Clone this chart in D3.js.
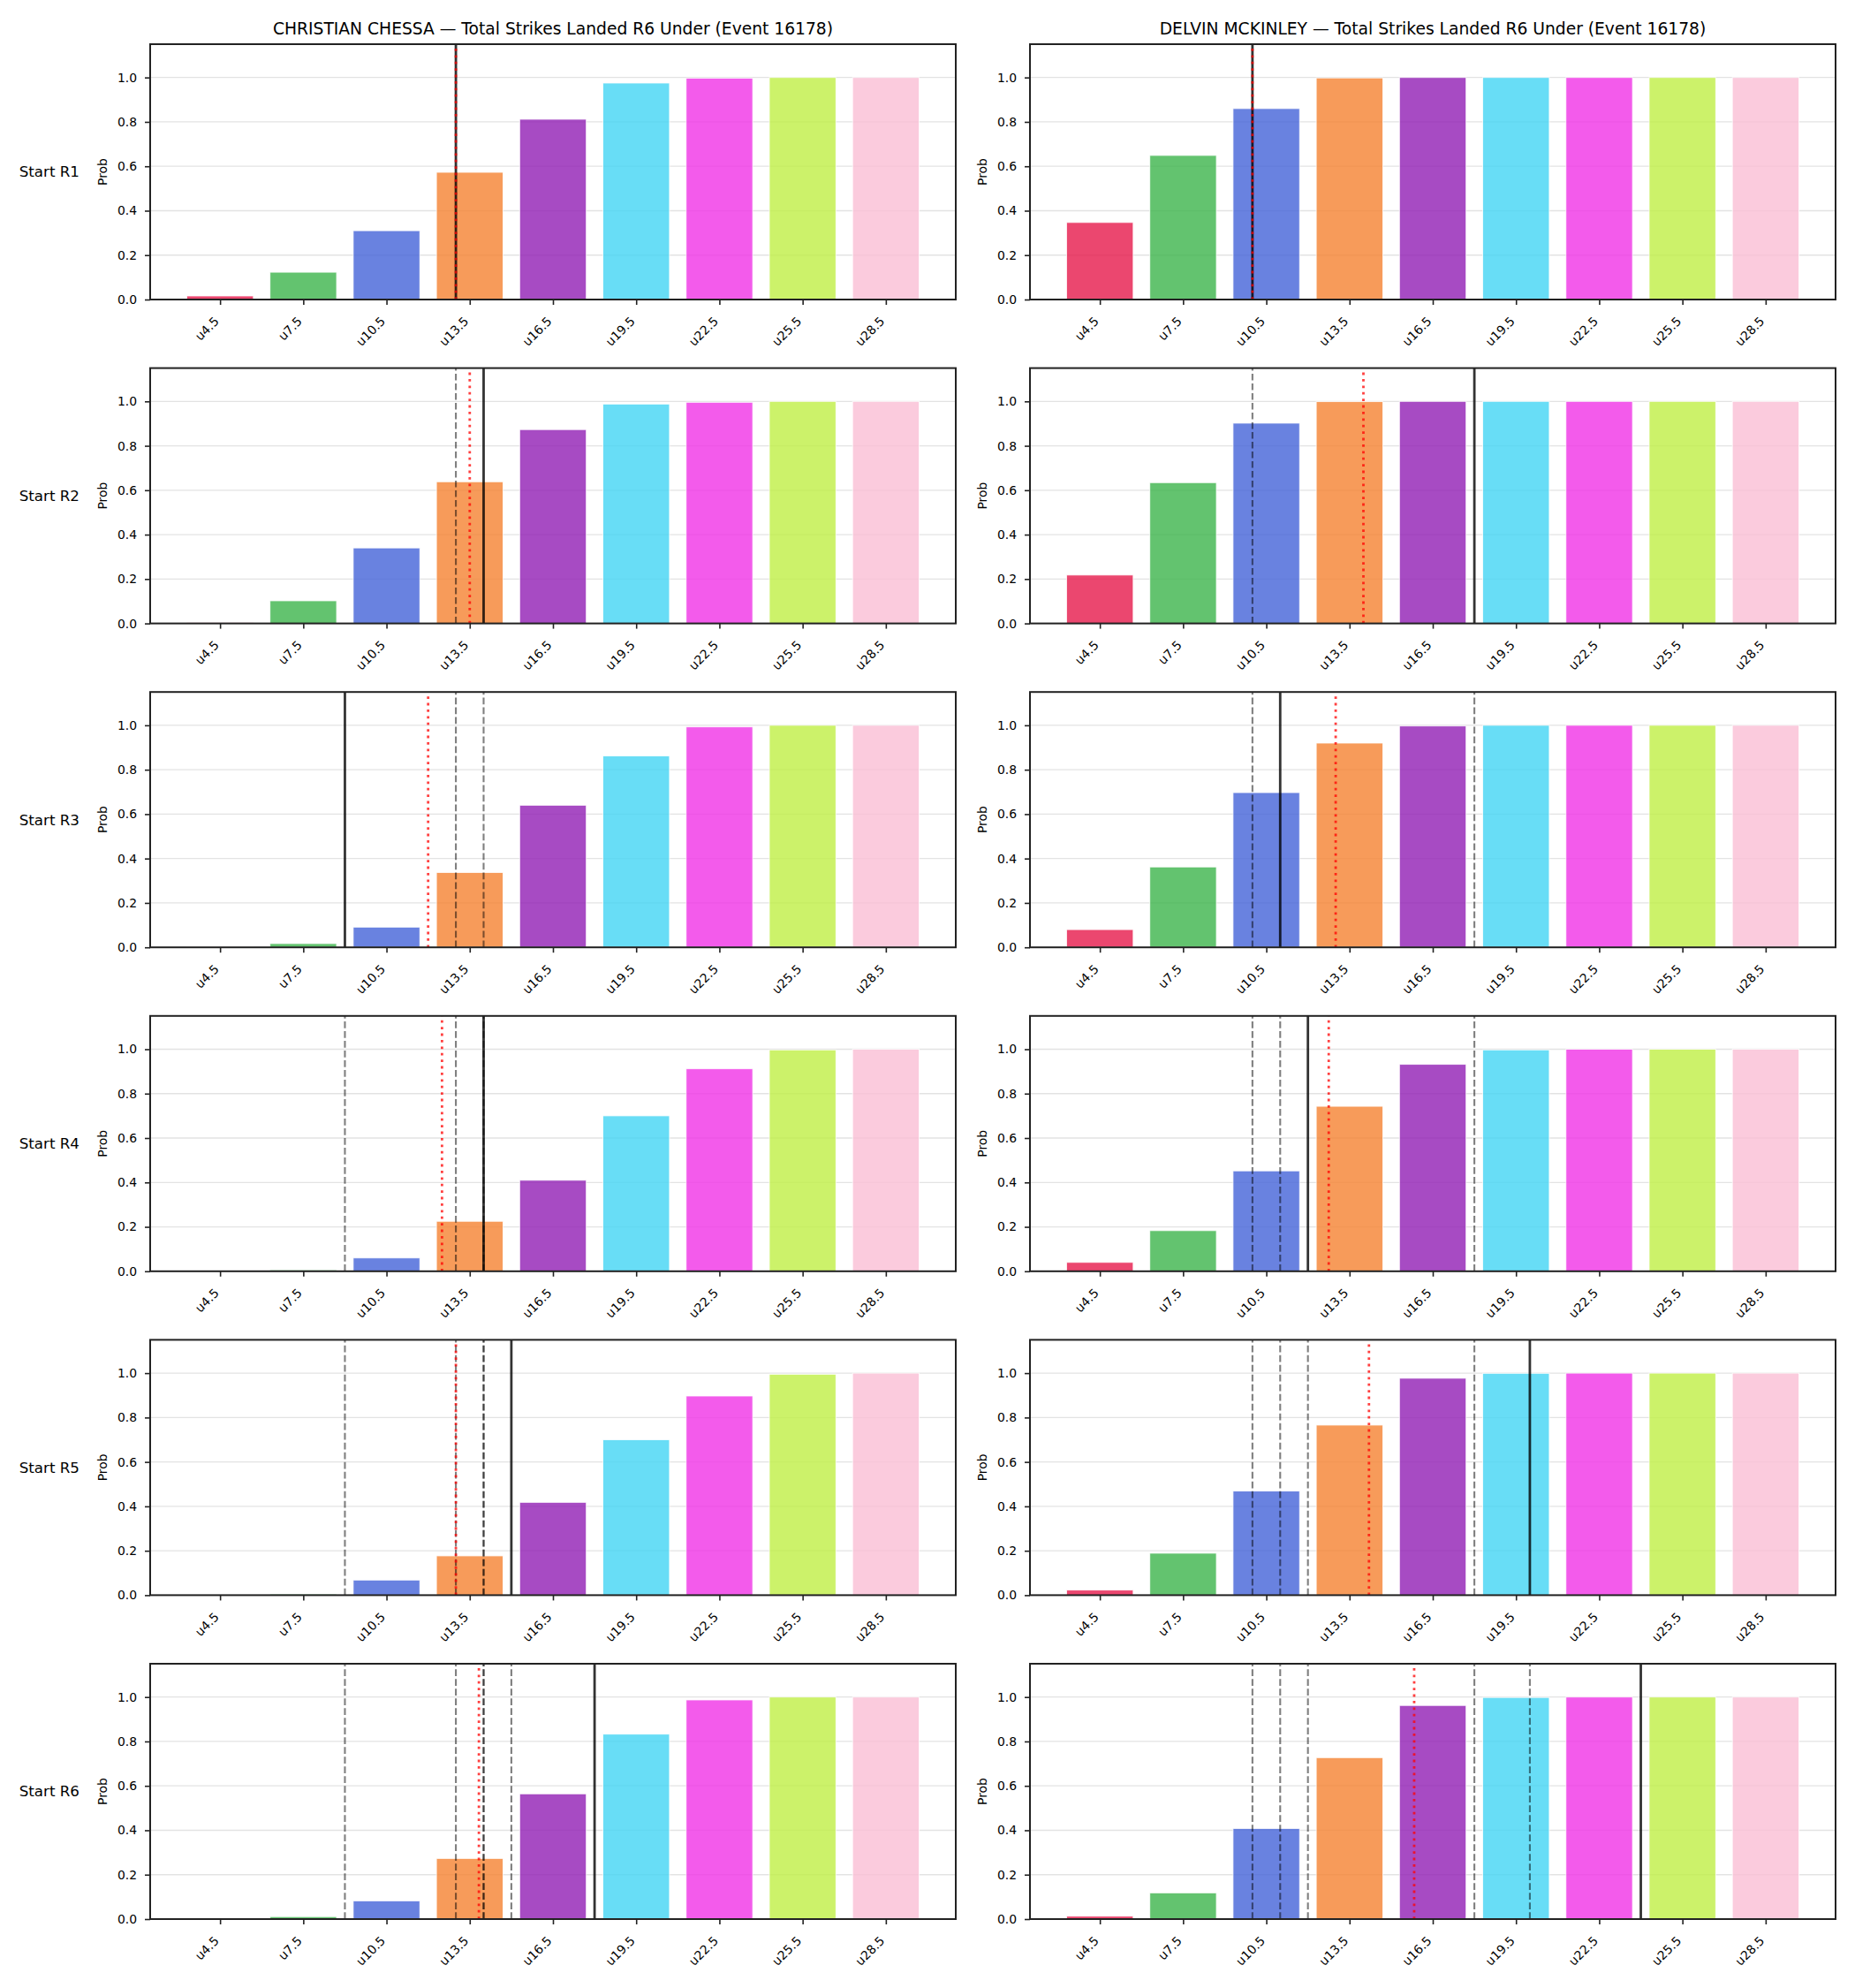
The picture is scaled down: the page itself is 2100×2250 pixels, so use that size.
<!DOCTYPE html>
<html>
<head>
<meta charset="utf-8">
<script src="https://cdn.jsdelivr.net/npm/d3@7"></script>
<style>
  body { margin: 0; background: #fff; }
  text { font-family: "DejaVu Sans", sans-serif; fill: #000; }
</style>
</head>
<body>
<div id="chart"></div>
<script>
// Lines (categories) and rounds
const lineLabels = ["u4.5", "u7.5", "u10.5", "u13.5", "u16.5", "u19.5", "u22.5", "u25.5", "u28.5"];
const lineValues = [4.5, 7.5, 10.5, 13.5, 16.5, 19.5, 22.5, 25.5, 28.5];
const rounds = ["Start R1", "Start R2", "Start R3", "Start R4", "Start R5", "Start R6"];
const fighters = ["CHRISTIAN CHESSA", "DELVIN MCKINLEY"];
const yTicks = [0, 0.2, 0.4, 0.6, 0.8, 1.0];
const barColors = ["#e6194b", "#3cb44b", "#4363d8", "#f58231", "#911eb4", "#42d4f4", "#f032e6", "#bfef45", "#fabed4"];

// Under probabilities, one row per starting round
const chessaProbs = [
    [0.016, 0.123, 0.310, 0.573, 0.812, 0.975, 0.997, 1.0, 1.0],
    [0.003, 0.102, 0.340, 0.638, 0.873, 0.988, 0.996, 1.0, 1.0],
    [0.001, 0.017, 0.091, 0.337, 0.640, 0.862, 0.993, 1.0, 1.0],
    [0.0, 0.006, 0.060, 0.225, 0.410, 0.700, 0.912, 0.997, 1.0],
    [0.0, 0.005, 0.068, 0.177, 0.418, 0.700, 0.897, 0.995, 1.0],
    [0.0, 0.011, 0.082, 0.273, 0.564, 0.833, 0.987, 1.0, 1.0]
];
const mckinleyProbs = [
    [0.347, 0.649, 0.860, 0.998, 1.0, 1.0, 1.0, 1.0, 1.0],
    [0.218, 0.634, 0.902, 0.999, 1.0, 1.0, 1.0, 1.0, 1.0],
    [0.080, 0.362, 0.697, 0.920, 0.997, 1.0, 1.0, 1.0, 1.0],
    [0.040, 0.183, 0.452, 0.743, 0.932, 0.997, 1.0, 1.0, 1.0],
    [0.023, 0.189, 0.469, 0.766, 0.977, 0.999, 1.0, 1.0, 1.0],
    [0.013, 0.118, 0.408, 0.727, 0.962, 0.998, 1.0, 1.0, 1.0]
];

// Marker lines (strikes): current round, earlier rounds dashed, running average dotted
const chessaMarks = [13, 14, 9, 14, 15, 18];
const mckinleyMarks = [10, 18, 11, 12, 20, 24];
const chessaAvg = [13, 13.5, 12, 12.5, 13, 13.83];
const mckinleyAvg = [10, 14, 13, 12.75, 14.2, 15.83];

const panels = [
    { name: fighters[0], probs: chessaProbs, marks: chessaMarks, avg: chessaAvg },
    { name: fighters[1], probs: mckinleyProbs, marks: mckinleyMarks, avg: mckinleyAvg }
];

const width = 2100, height = 2250;
const colLeft = [170, 1166];
const top0 = 50, rowStep = 366.6;
const axW = 912, axH = 289;

const svg = d3.select("#chart").append("svg")
    .attr("width", width)
    .attr("height", height);

svg.append("rect").attr("width", width).attr("height", height).attr("fill", "#fff");

// Scales shared by all panels
const x = d3.scaleLinear().domain([-0.84, 8.84]).range([0, axW]);
const xStrikes = d3.scaleLinear().domain([lineValues[0], lineValues[8]]).range([x(0), x(8)]);
const y = d3.scaleLinear().domain([0, 1.15]).range([axH, 0]);

panels.forEach((p, c) => {
    rounds.forEach((rl, r) => {
        const g = svg.append("g")
            .attr("transform", `translate(${colLeft[c]}, ${top0 + r * rowStep})`);

        // Grid
        g.selectAll(".grid")
            .data(yTicks)
            .join("line")
            .attr("x1", 0).attr("x2", axW)
            .attr("y1", d => y(d)).attr("y2", d => y(d))
            .attr("stroke", "#b0b0b0")
            .attr("stroke-opacity", 0.35)
            .attr("stroke-width", 1.3);

        // Bars
        g.selectAll(".bar")
            .data(p.probs[r])
            .join("rect")
            .attr("x", (d, i) => x(i - 0.4))
            .attr("width", x(0.8) - x(0))
            .attr("y", d => y(d))
            .attr("height", d => y(0) - y(d))
            .attr("fill", (d, i) => barColors[i])
            .attr("fill-opacity", 0.8)
            .attr("stroke", "#fff")
            .attr("stroke-opacity", 0.8)
            .attr("stroke-width", 1);

        // Earlier rounds, dashed
        g.selectAll(".prev")
            .data(p.marks.slice(0, r))
            .join("line")
            .attr("x1", d => xStrikes(d)).attr("x2", d => xStrikes(d))
            .attr("y1", axH).attr("y2", 0)
            .attr("stroke", "#000")
            .attr("stroke-opacity", 0.5)
            .attr("stroke-width", 2.1)
            .attr("stroke-dasharray", "7.7,3.3");

        // Current round, solid
        g.append("line")
            .attr("x1", xStrikes(p.marks[r])).attr("x2", xStrikes(p.marks[r]))
            .attr("y1", axH).attr("y2", 0)
            .attr("stroke", "#000")
            .attr("stroke-opacity", 0.8)
            .attr("stroke-width", 2.8);

        // Running average, dotted red
        g.append("line")
            .attr("x1", xStrikes(p.avg[r])).attr("x2", xStrikes(p.avg[r]))
            .attr("y1", axH).attr("y2", 0)
            .attr("stroke", "#ff0000")
            .attr("stroke-opacity", 0.75)
            .attr("stroke-width", 2.8)
            .attr("stroke-dasharray", "2.8,4.6");

        // Axes
        const yAxis = g.append("g")
            .call(d3.axisLeft(y).tickValues(yTicks).tickFormat(d3.format(".1f")).tickSize(6).tickPadding(9));
        yAxis.select(".domain").remove();
        yAxis.selectAll("line").attr("stroke", "#222").attr("stroke-width", 1.6);
        yAxis.selectAll("text").attr("font-size", "13.9px").attr("fill", "#000");

        const xAxis = g.append("g")
            .attr("transform", `translate(0, ${axH})`)
            .call(d3.axisBottom(x).tickValues(d3.range(lineLabels.length)).tickFormat(i => lineLabels[i]).tickSize(6));
        xAxis.select(".domain").remove();
        xAxis.selectAll("line").attr("stroke", "#222").attr("stroke-width", 1.6);
        xAxis.selectAll("text")
            .attr("font-size", "13.9px")
            .attr("fill", "#000")
            .attr("text-anchor", "end")
            .attr("y", 0).attr("dy", 0)
            .attr("transform", "translate(-1, 25.5) rotate(-45)");

        // Frame
        g.append("rect")
            .attr("width", axW).attr("height", axH)
            .attr("fill", "none")
            .attr("stroke", "#222")
            .attr("stroke-width", 2);

        // Y label
        g.append("text")
            .attr("transform", `translate(-54, ${axH / 2}) rotate(-90)`)
            .attr("text-anchor", "middle")
            .attr("dy", "0.35em")
            .attr("font-size", "13.9px")
            .text("Prob");

        // Row label (left column only)
        if (c === 0) {
            g.append("text")
                .attr("x", 90 - colLeft[0])
                .attr("y", axH / 2)
                .attr("dy", "0.35em")
                .attr("text-anchor", "end")
                .attr("font-size", "16.7px")
                .text(rl);
        }

        // Title on top row
        if (r === 0) {
            g.append("text")
                .attr("x", axW / 2)
                .attr("y", -11.5)
                .attr("text-anchor", "middle")
                .attr("font-size", "18.7px")
                .text(`${p.name} — Total Strikes Landed R6 Under (Event 16178)`);
        }
    });
});
</script>
</body>
</html>
